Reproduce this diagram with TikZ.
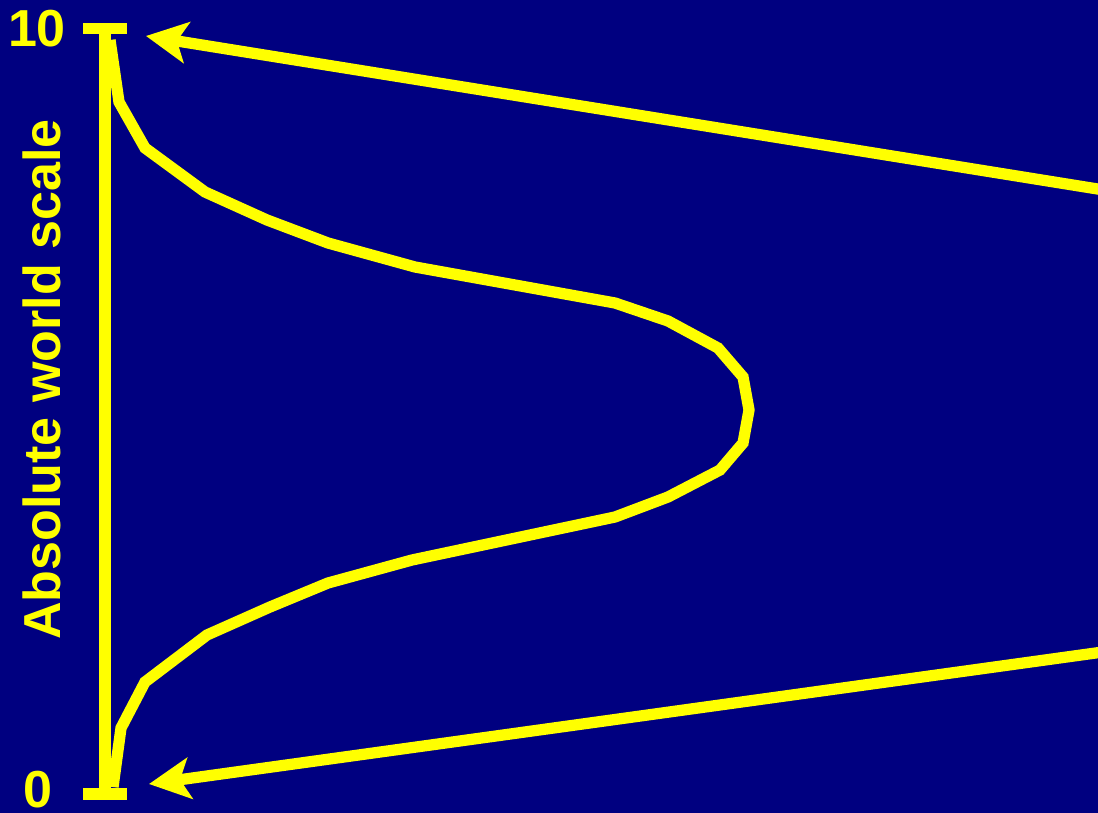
\documentclass[tikz,border=0pt]{standalone}
\usepackage{fontspec}
\setmainfont{Liberation Sans}
\usepackage{tikz}
\usetikzlibrary{arrows.meta, positioning, calc}

\definecolor{navybg}{RGB}{0,0,128}
\definecolor{scaleyellow}{RGB}{255,255,0}

\begin{document}
\begin{tikzpicture}[x=0.01cm, y=-0.01cm, >={Stealth[length=11.7pt, width=11.7pt, inset=2.8pt]},
    line width=3.2pt, scaleyellow]
        % Background
        \fill [navybg] (0,0) rectangle (1098,813);
        \useasboundingbox (0,0) rectangle (1098,813);
        % Scale bar with end caps
        \coordinate (bartop) at (105,28.5);
        \coordinate (barbot) at (105,794);
        \draw (bartop) -- (barbot);
        \draw (83,28.5) -- (127,28.5);
        \draw (83,794) -- (127,794);
        % Labels
        \node [font=\fontsize{14.8}{17}\bfseries, inner sep=0pt] (ten) at (37,28.5) {10};
        \node [font=\fontsize{14.8}{17}\bfseries, inner sep=0pt] (zero) at (37.5,790) {0};
        \node [font=\fontsize{14.8}{17}\bfseries, inner sep=0pt, rotate=90, anchor=base] (axislabel) at (60,379.5) {Absolute world scale};
        % Distribution curve
        \draw (110,40) -- (119,102) -- (145,148) -- (205,192) -- (267,220) -- (328,243)
            -- (415,267) -- (615,303) -- (668,321) -- (718,348) -- (743,377) -- (749,410)
            -- (743,443) -- (720,470) -- (668,497) -- (615,517) -- (412,560) -- (328,583)
            -- (270,607) -- (207,635) -- (145,682) -- (121,728) -- (113,787);
        % Arrows coming in from the right
        \coordinate (topin) at (1110,191);
        \coordinate (toptip) at (146,36);
        \coordinate (botin) at (1110,651);
        \coordinate (bottip) at (149,784);
        \draw [->] (topin) -- (toptip);
        \draw [->] (botin) -- (bottip);
    \end{tikzpicture}
\end{document}
